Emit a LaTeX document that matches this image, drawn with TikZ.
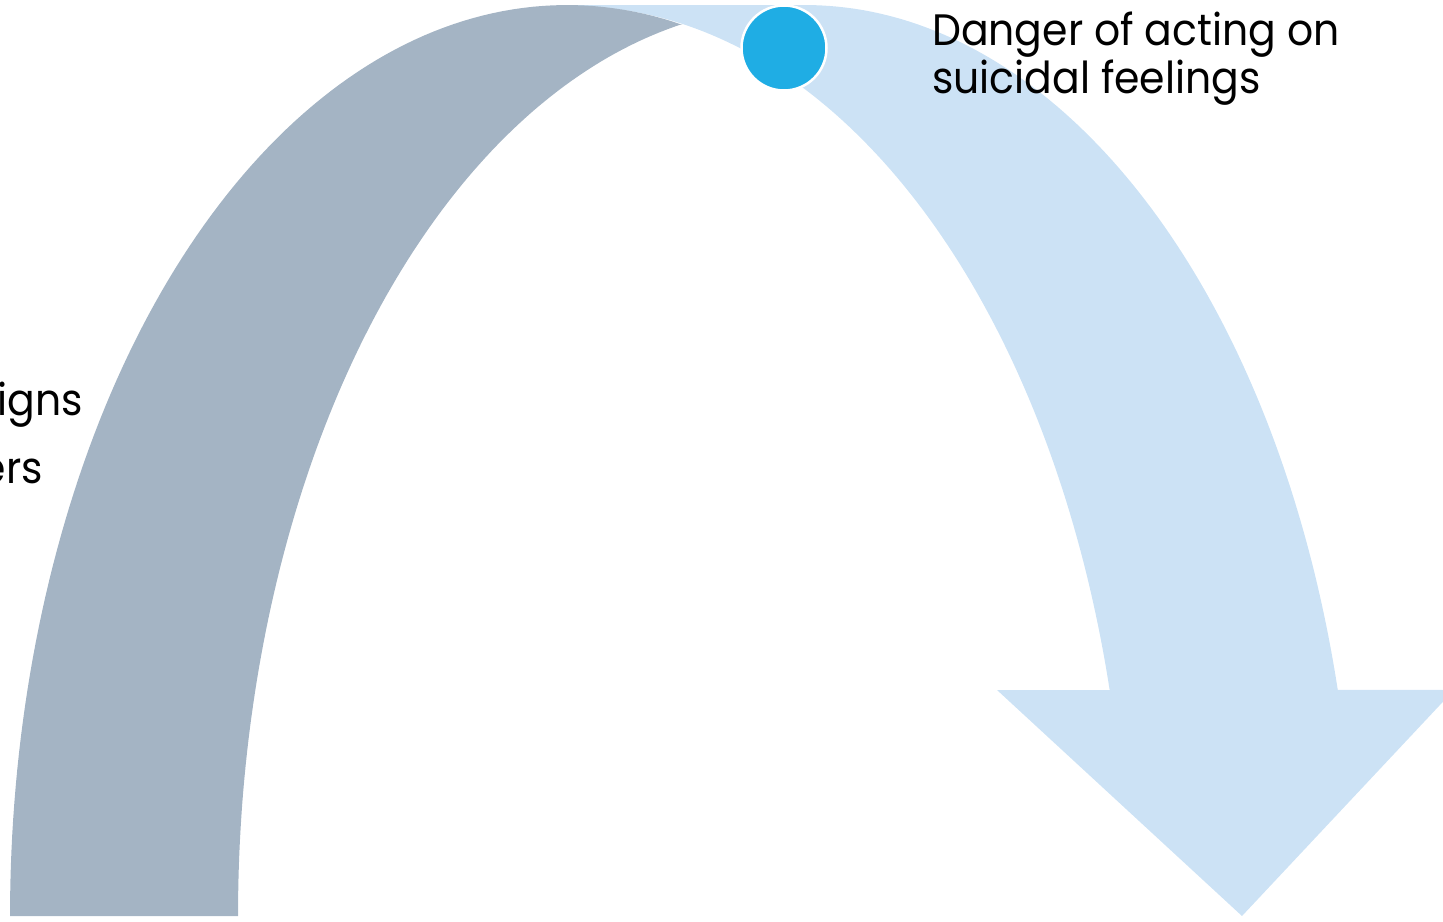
\documentclass[tikz,border=0pt]{standalone}
\usepackage{fontspec}
\newfontfamily\labelfont[FakeStretch=0.93]{Poppins}
\definecolor{grayarc}{RGB}{164,180,196}
\definecolor{bluearc}{RGB}{204,226,245}
\definecolor{dotblue}{RGB}{31,173,228}
\tikzset{
  lbl/.style={font=\labelfont\fontsize{44}{48}\selectfont, text=black, inner sep=0pt},
  dotnode/.style={circle, fill=dotblue, draw=white, line width=2.5pt, minimum size=85pt, inner sep=0pt}
}
\begin{document}
\begin{tikzpicture}[x=1pt,y=-1pt]
\useasboundingbox (0,0) rectangle (1443,921);
\clip (0,0) rectangle (1443,921);
% blue arrow (behind)
\fill[bluearc] (575,5) -- (805,5)
  -- plot[domain=90:14.37, samples=90, variable=\t] ({805+550*cos(\t)},{916-911*sin(\t)})
  -- (1454,690) -- (1242,916) -- (997,690)
  -- plot[domain=14.39:90, samples=90, variable=\t] ({575+552*cos(\t)},{916-909.5*sin(\t)})
  -- cycle;
% gray arc (front)
\fill[grayarc]
  plot[domain=180:78.08, samples=100, variable=\t] ({567+557*cos(\t)},{916-911*sin(\t)})
  -- plot[domain=101.28:180, samples=100, variable=\t] ({790+552*cos(\t)},{916-909.5*sin(\t)})
  -- cycle;
% dot
\node[dotnode] (dot) at (784,48) {};
% labels
\node[lbl, anchor=base west] (danger1) at (932,45) {Danger of acting on};
\node[lbl, anchor=base west] (danger2) at (932,93) {suicidal feelings};
\node[lbl, anchor=base east] (signs) at (83,415) {Signs};
\node[lbl, anchor=base east] (ers) at (43,483) {ers};
\end{tikzpicture}
\end{document}
